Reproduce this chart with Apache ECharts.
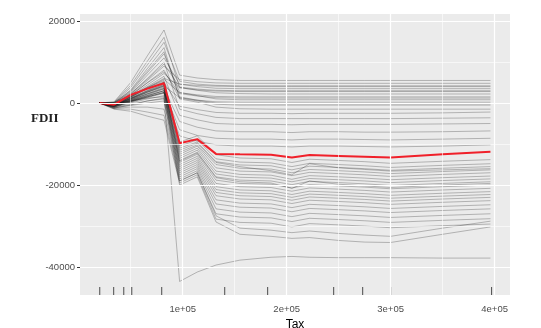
<!DOCTYPE html>
<html>
<head>
<meta charset="utf-8">
<script src="https://cdn.jsdelivr.net/npm/echarts@6/dist/echarts.min.js"></script>
<style>
html, body { margin: 0; padding: 0; background: #fff; }
#chart { width: 541px; height: 328px; }
</style>
</head>
<body>
<div id="chart"></div>
<script>
// grid of Tax values the ICE curves are evaluated on
const taxGrid = [20000, 34000, 50000, 66000, 82000, 97000, 114000, 132000, 155000, 185000, 205000, 222000, 250000, 275000, 300000, 350000, 396000];

// red average curve
const meanFDII = [0, -400, 2000, 3500, 4800, -9800, -8800, -12400, -12500, -12600, -13300, -12700, -12900, -13100, -13300, -12500, -11900];

// individual curves (upper band, lower band, outlier)
const iceCurves = [
  [0, 300, 5000, 11500, 17800, 6800, 6100, 5700, 5500, 5500, 5500, 5500, 5500, 5500, 5500, 5500, 5500],
  [0, 200, 4300, 10200, 16000, 3800, 3100, 2500, 2300, 2200, 2200, 2200, 2200, 2200, 2200, 2200, 2200],
  [0, 100, 3800, 9300, 14800, 5300, 4600, 4300, 4200, 4200, 4200, 4200, 4200, 4200, 4200, 4200, 4200],
  [0, 0, 3200, 8400, 13500, 1000, 200, -1000, -1400, -1500, -1500, -1500, -1500, -1500, -1500, -1500, -1500],
  [0, -100, 2800, 7400, 12000, 2600, 1800, 1000, 800, 800, 800, 800, 800, 800, 800, 800, 800],
  [0, 100, 2500, 6800, 11000, 4600, 4000, 3600, 3500, 3500, 3500, 3500, 3500, 3500, 3500, 3500, 3500],
  [0, -200, 2200, 6000, 10000, -1500, -2600, -3500, -3800, -3800, -3800, -3800, -3800, -3800, -3800, -3700, -3600],
  [0, 0, 2000, 5500, 9000, 5700, 5200, 4900, 4800, 4800, 4800, 4800, 4800, 4800, 4800, 4800, 4800],
  [0, -200, 1800, 5000, 8000, 1200, 500, -300, -500, -500, -500, -500, -500, -500, -500, -500, -500],
  [0, -300, 1600, 4400, 7200, 3700, 3200, 2900, 2800, 2800, 2800, 2800, 2800, 2800, 2800, 2800, 2800],
  [0, -300, 1500, 4000, 6500, -3000, -4100, -5000, -5200, -5200, -5300, -5200, -5200, -5200, -5200, -5100, -5000],
  [0, -400, 1300, 3600, 5800, 2500, 2000, 1600, 1500, 1500, 1500, 1500, 1500, 1500, 1500, 1500, 1500],
  [0, -400, 1200, 3100, 5000, -800, -1600, -2300, -2500, -2500, -2600, -2500, -2500, -2500, -2500, -2400, -2200],
  [0, -400, 1000, 2600, 4200, 1300, 700, 300, 200, 200, 200, 200, 200, 200, 200, 200, 200],
  [0, -500, 800, 2200, 3600, -4500, -5900, -6800, -7000, -7000, -7200, -7000, -7000, -7100, -7100, -7000, -6800],
  [0, -500, 600, 1800, 3000, -6500, -7900, -8600, -8800, -8800, -9000, -8800, -8800, -8900, -9000, -8800, -8600],
  [0, -600, 500, 1500, 2500, -8000, -9300, -10200, -10500, -10500, -10700, -10500, -10500, -10600, -10700, -10500, -10200],
  [0, -100, 2300, 5800, 9500, 3900, 3400, 3100, 3000, 3000, 3000, 3000, 3000, 3000, 3000, 3000, 3000],
  [0, -300, 1400, 3800, 6000, 4600, 4300, 4100, 4000, 4000, 4000, 4000, 4000, 4000, 4000, 4000, 4000],
  [0, 100, 3000, 7800, 12500, 1500, 700, 0, -200, -200, -200, -200, -200, -200, -200, -200, -200],
  [0, -200, 1900, 4900, 7600, 2300, 1700, 1300, 1200, 1200, 1200, 1200, 1200, 1200, 1200, 1200, 1200],
  [0, -300, 1800, 3800, 5500, -9500, -8000, -12600, -13400, -13600, -14500, -13700, -14000, -14300, -14700, -14200, -13800],
  [0, -500, 1200, 3000, 4600, -10500, -9000, -13600, -14400, -14600, -15500, -14700, -15000, -15300, -15700, -15200, -14800],
  [0, -400, 1500, 3400, 5000, -11000, -9500, -14300, -15100, -15300, -16300, -15400, -15700, -16000, -16400, -15900, -15500],
  [0, -600, 900, 2600, 4000, -12000, -10200, -15000, -15900, -16100, -17000, -16200, -16500, -16800, -17200, -16700, -16300],
  [0, -500, 1100, 2800, 4300, -12500, -10500, -15800, -16600, -16800, -17700, -16900, -17200, -17500, -17900, -17400, -17000],
  [0, -700, 700, 2200, 3500, -13000, -11000, -16600, -17400, -17600, -18600, -17700, -18000, -18300, -18700, -18200, -17800],
  [0, -600, 1000, 2700, 4200, -13500, -11500, -17300, -18100, -18300, -19200, -18400, -18700, -19000, -19400, -18900, -18500],
  [0, -800, 500, 1800, 3000, -14000, -12000, -18000, -18800, -19000, -19900, -19100, -19400, -19700, -20100, -19600, -19200],
  [0, -700, 800, 2300, 3800, -14500, -12500, -18800, -19600, -19800, -20700, -19900, -20200, -20500, -20900, -20400, -20000],
  [0, -900, 300, 1500, 2600, -15000, -13000, -19600, -20400, -20600, -21500, -20700, -21000, -21300, -21700, -21200, -20800],
  [0, -800, 600, 2000, 3400, -15500, -13500, -20400, -21200, -21400, -22300, -21500, -21800, -22100, -22500, -22000, -21600],
  [0, -1000, 0, 1000, 1800, -16000, -14000, -21100, -21900, -22100, -23000, -22200, -22500, -22800, -23200, -22700, -22300],
  [0, -900, 400, 1700, 3000, -16500, -14500, -21800, -22600, -22800, -23700, -22900, -23200, -23500, -23900, -23400, -23000],
  [0, -1100, -300, 500, 1200, -17000, -15000, -22600, -23400, -23600, -24500, -23700, -24000, -24300, -24700, -24200, -23800],
  [0, -1000, 200, 1300, 2400, -17500, -15500, -23600, -24400, -24600, -25500, -24700, -25000, -25300, -25700, -25200, -24800],
  [0, -1200, -600, 0, 500, -18000, -16000, -24600, -25400, -25600, -26500, -25700, -26000, -26300, -26700, -26200, -25800],
  [0, -1300, -1000, -1000, -1500, -18500, -16500, -25800, -26600, -26800, -27700, -26900, -27200, -27500, -27900, -27400, -27000],
  [0, -1400, -1500, -2200, -3000, -19000, -17000, -27000, -27800, -28000, -28900, -28100, -28400, -28700, -29100, -28600, -28200],
  [0, -1500, -2000, -3200, -4200, -19500, -17500, -28300, -29100, -29300, -30200, -29400, -29700, -30000, -30400, -29900, -29500],
  [0, -1200, -500, 500, 1000, -20000, -18000, -29000, -32000, -32500, -33000, -32800, -33500, -33900, -34000, -32000, -30200],
  [0, -900, 300, 1500, 2600, -19000, -17000, -27500, -30500, -31000, -31600, -31200, -31800, -32200, -32500, -30500, -28800],
  [0, -400, 1600, 3600, 5200, -11500, -9800, -14500, -15500, -16500, -17500, -14800, -15800, -16200, -16600, -16300, -16000],
  [0, -600, 1100, 2900, 4500, -14200, -12200, -18200, -19200, -19500, -20800, -19000, -19800, -20200, -20600, -20000, -19600],
  [0, -200, 500, 1200, 1500, -43500, -41200, -39500, -38300, -37600, -37400, -37600, -37700, -37700, -37700, -37800, -37800]
];

// rug marks along the bottom
const rugTax = [20200, 33600, 43300, 51000, 79800, 140400, 181700, 245200, 273100, 300000, 397100];

const xTickValues = [100000, 200000, 300000, 400000];
const xTickLabels = ['1e+05', '2e+05', '3e+05', '4e+05'];
const xMinorGrid = [50000, 150000, 250000, 350000];
const yTickValues = [-40000, -20000, 0, 20000];
const yTickLabels = ['-40000', '-20000', '0', '20000'];
const yMinorGrid = [-30000, -10000, 10000];

const xMin = 1200, xMax = 414800;
const yMin = -46800, yMax = 21700;

const chart = echarts.init(document.getElementById('chart'));

const toPoints = ys => taxGrid.map((x, i) => [x, ys[i]]);

const series = [];

// panel grid lines (ggplot style)
series.push({
  type: 'line',
  data: [],
  silent: true,
  z: 1,
  markLine: {
    silent: true,
    symbol: ['none', 'none'],
    label: { show: false },
    animation: false,
    data: [
      ...yMinorGrid.map(v => ({ yAxis: v, lineStyle: { color: '#fff', width: 0.6, type: 'solid' } })),
      ...xMinorGrid.map(v => ({ xAxis: v, lineStyle: { color: '#fff', width: 0.6, type: 'solid' } })),
      ...yTickValues.map(v => ({ yAxis: v, lineStyle: { color: '#fff', width: 1.2, type: 'solid' } })),
      ...xTickValues.map(v => ({ xAxis: v, lineStyle: { color: '#fff', width: 1.2, type: 'solid' } }))
    ]
  }
});

iceCurves.forEach(c => {
  series.push({
    type: 'line',
    data: toPoints(c),
    showSymbol: false,
    symbol: 'none',
    silent: true,
    z: 2,
    lineStyle: { color: '#000', width: 0.9, opacity: 0.28 }
  });
});

series.push({
  type: 'line',
  data: toPoints(meanFDII),
  showSymbol: false,
  symbol: 'none',
  silent: true,
  z: 3,
  lineStyle: { color: '#f0202a', width: 2 }
});

series.push({
  type: 'scatter',
  data: rugTax.map(x => [x, yMin]),
  symbol: 'rect',
  symbolSize: [1, 8],
  symbolOffset: [0, -4],
  clip: false,
  silent: true,
  z: 4,
  itemStyle: { color: '#222' }
});

chart.setOption({
  animation: false,
  grid: {
    left: 80, right: 31, top: 14, bottom: 33,
    outerBoundsMode: 'none',
    show: true, backgroundColor: '#EBEBEB', borderWidth: 0
  },
  xAxis: {
    type: 'value',
    min: xMin, max: xMax,
    name: 'Tax',
    nameLocation: 'middle',
    nameGap: 22,
    nameTextStyle: { color: '#000', fontSize: 12, fontFamily: 'Liberation Sans' },
    axisLine: { show: false },
    splitLine: { show: false },
    axisTick: { show: true, customValues: xTickValues, length: 3, lineStyle: { color: '#333' } },
    axisLabel: {
      customValues: xTickValues,
      formatter: v => xTickLabels[xTickValues.indexOf(v)],
      color: '#4D4D4D', fontSize: 9.5, fontFamily: 'Liberation Sans', margin: 9
    }
  },
  yAxis: {
    type: 'value',
    min: yMin, max: yMax,
    axisLine: { show: false },
    splitLine: { show: false },
    axisTick: { show: true, customValues: yTickValues, length: 3, lineStyle: { color: '#333' } },
    axisLabel: {
      customValues: yTickValues,
      formatter: v => yTickLabels[yTickValues.indexOf(v)],
      color: '#4D4D4D', fontSize: 9.5, fontFamily: 'Liberation Sans', margin: 5
    }
  },
  graphic: [{
    type: 'text',
    left: 31, top: 112,
    style: { text: 'FDII', fontSize: 13, fontWeight: 'bold', fontFamily: 'Liberation Serif', fill: '#222' }
  }],
  series: series
});
</script>
</body>
</html>
